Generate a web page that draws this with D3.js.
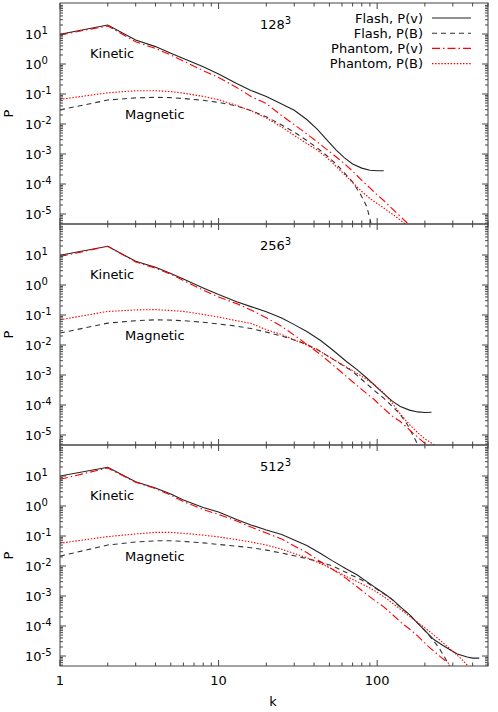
<!DOCTYPE html>
<html>
<head>
<meta charset="utf-8">
<script src="https://cdnjs.cloudflare.com/ajax/libs/d3/7.8.5/d3.min.js"></script>
<style>
  body { margin: 0; background: #fff; }
  text { font-family: "DejaVu Sans", sans-serif; font-size: 13px; fill: #000; }
</style>
</head>
<body>
<div id="chart"></div>
<script>
// all P values are stored as log10(P)

// --- 128^3 ---
const k128v = [1,2,3,4,5,6,8,10,13,16,20,25,30,36,42,48,55,62,70,80,90,100,110];
const flashV128 = [0.99,1.30,0.80,0.58,0.36,0.18,-0.09,-0.33,-0.65,-0.88,-1.08,-1.33,-1.54,-1.85,-2.18,-2.52,-2.86,-3.12,-3.33,-3.47,-3.54,-3.56,-3.56];
const k128b = [1,2,3,4,5,6,8,10,13,16,20,25,30,36,42,48,55,62,70,78,82,86,90,94];
const flashB128 = [-1.53,-1.20,-1.13,-1.11,-1.12,-1.15,-1.21,-1.28,-1.40,-1.55,-1.76,-2.03,-2.27,-2.55,-2.80,-3.05,-3.33,-3.62,-3.93,-4.32,-4.53,-4.76,-5.15,-5.6];
const k128pv = [1,2,3,4,5,6,8,10,13,16,20,25,30,36,42,50,60,70,80,90,100,110,130,155];
const phantomV128 = [0.97,1.27,0.74,0.52,0.30,0.10,-0.22,-0.45,-0.78,-1.08,-1.32,-1.72,-2.02,-2.33,-2.60,-2.92,-3.25,-3.57,-3.88,-4.13,-4.36,-4.55,-4.92,-5.3];
const k128pb = [1,2,3,4,5,6,8,10,13,16,20,25,30,36,42,50,60,70,80,90,100,110,130,150];
const phantomB128 = [-1.18,-0.96,-0.89,-0.89,-0.92,-0.97,-1.08,-1.19,-1.38,-1.56,-1.80,-2.10,-2.38,-2.65,-2.87,-3.2,-3.6,-3.95,-4.25,-4.48,-4.65,-4.80,-5.07,-5.33];

// --- 256^3 ---
const k256v = [1,2,3,4,5,6,8,10,13,16,20,25,30,36,44,52,64,75,86,100,110,125,140,160,180,200,220];
const flashV256 = [0.99,1.29,0.79,0.59,0.38,0.20,-0.10,-0.32,-0.56,-0.72,-0.89,-1.10,-1.32,-1.55,-1.85,-2.15,-2.55,-2.83,-3.10,-3.42,-3.62,-3.88,-4.05,-4.17,-4.23,-4.25,-4.24];
const k256b = [1,2,3,4,5,6,8,10,13,16,20,25,30,36,42,50,60,70,82,95,110,125,140,155,165,175,185];
const flashB256 = [-1.60,-1.27,-1.19,-1.16,-1.17,-1.19,-1.24,-1.30,-1.37,-1.45,-1.57,-1.70,-1.83,-1.98,-2.15,-2.40,-2.66,-2.88,-3.20,-3.50,-3.77,-4.05,-4.32,-4.65,-4.93,-5.18,-5.45];
const k256pv = [1,2,3,4,5,6,8,10,13,16,20,25,30,36,44,52,64,75,86,95,110,125,140,160,180,200,215];
const phantomV256 = [0.95,1.29,0.77,0.56,0.36,0.15,-0.17,-0.40,-0.62,-0.83,-1.09,-1.38,-1.67,-1.98,-2.32,-2.64,-3.05,-3.36,-3.62,-3.80,-4.12,-4.38,-4.55,-4.83,-5.07,-5.28,-5.40];
const k256pb = [1,2,3,4,5,6,8,10,13,16,20,25,30,36,42,50,60,70,82,95,110,125,140,160,180,200,233];
const phantomB256 = [-1.16,-0.88,-0.83,-0.82,-0.85,-0.88,-0.98,-1.07,-1.19,-1.28,-1.49,-1.65,-1.83,-2.0,-2.16,-2.40,-2.65,-2.85,-3.08,-3.30,-3.60,-3.95,-4.30,-4.65,-4.92,-5.13,-5.35];

// --- 512^3 ---
const k512v = [1,2,3,4,5,6,8,10,13,16,20,25,30,36,44,52,64,75,86,95,110,125,140,160,180,200,228,260,290,320,370,400,440];
const flashV512 = [1.0,1.29,0.81,0.60,0.40,0.20,-0.05,-0.20,-0.45,-0.63,-0.80,-0.95,-1.13,-1.32,-1.58,-1.82,-2.10,-2.30,-2.52,-2.68,-2.91,-3.12,-3.36,-3.62,-3.90,-4.15,-4.45,-4.65,-4.80,-4.93,-5.03,-5.07,-5.07];
const k512b = [1,2,3,4,5,6,8,10,13,16,20,25,30,36,44,52,64,75,86,95,110,125,140,160,180,200,225,245,265,280,290];
const flashB512 = [-1.67,-1.30,-1.20,-1.16,-1.16,-1.18,-1.23,-1.28,-1.34,-1.39,-1.47,-1.57,-1.66,-1.75,-1.87,-1.99,-2.22,-2.40,-2.55,-2.70,-2.92,-3.13,-3.37,-3.63,-3.9,-4.15,-4.47,-4.72,-5.02,-5.25,-5.40];
const k512pv = [1,2,3,4,5,6,8,10,13,16,20,25,30,36,44,52,64,75,86,95,110,125,140,160,180,210,250,291];
const phantomV512 = [0.89,1.27,0.79,0.58,0.36,0.15,-0.12,-0.28,-0.50,-0.70,-0.90,-1.10,-1.33,-1.55,-1.86,-2.10,-2.42,-2.70,-2.95,-3.12,-3.36,-3.62,-3.86,-4.10,-4.33,-4.68,-5.02,-5.30];
const k512pb = [1,2,3,4,5,6,8,10,13,16,20,25,30,36,44,52,64,75,86,95,110,125,140,160,180,210,240,270,300,340,370];
const phantomB512 = [-1.24,-1.02,-0.93,-0.88,-0.88,-0.91,-0.97,-1.03,-1.12,-1.20,-1.30,-1.44,-1.58,-1.72,-1.92,-2.10,-2.35,-2.52,-2.68,-2.80,-3.02,-3.24,-3.44,-3.68,-3.88,-4.15,-4.40,-4.63,-4.85,-5.10,-5.30];

const legendLabels = ["Flash, P(v)", "Flash, P(B)", "Phantom, P(v)", "Phantom, P(B)"];
const resolutions = ["128", "256", "512"];
const xTickLabels = [1, 10, 100];
const yExponents = [-5, -4, -3, -2, -1, 0, 1];

const styles = [
  {color: "#222", dash: null},
  {color: "#333", dash: "5,4"},
  {color: "#f00", dash: "8,3,1.5,3"},
  {color: "#f00", dash: "1.5,1.6"}
];

const panels = [
  {top: 3,   series: [[k128v, flashV128], [k128b, flashB128], [k128pv, phantomV128], [k128pb, phantomB128]]},
  {top: 224, series: [[k256v, flashV256], [k256b, flashB256], [k256pv, phantomV256], [k256pb, phantomB256]]},
  {top: 445, series: [[k512v, flashV512], [k512b, flashB512], [k512pv, phantomV512], [k512pb, phantomB512]]}
];

var width = 498, height = 712;
var left = 60, right = 488, ph = 221;

var svg = d3.select("#chart").append("svg")
  .attr("width", width).attr("height", height);

var x = d3.scaleLog().domain([1, 500]).range([left, right]);

var xMinor = [];
[1, 10, 100].forEach(function(d) {
  for (var i = 2; i <= 9; i++) if (d * i <= 500) xMinor.push(d * i);
});
var yMinor = [];
for (var e = -6; e <= 1; e++) {
  for (var i = 2; i <= 9; i++) yMinor.push(i * Math.pow(10, e));
}

panels.forEach(function(p, pi) {
  var y = d3.scaleLog().domain([4.65e-6, 108]).range([p.top + ph, p.top]);
  var g = svg.append("g");

  g.append("clipPath").attr("id", "clip" + pi)
    .append("rect").attr("x", left).attr("y", p.top).attr("width", right - left).attr("height", ph);

  // curves
  var line = d3.line()
    .x(function(d) { return x(d[0]); })
    .y(function(d) { return y(Math.pow(10, d[1])); });

  p.series.forEach(function(s, si) {
    var pts = s[0].map(function(k, i) { return [k, s[1][i]]; });
    g.append("path")
      .attr("clip-path", "url(#clip" + pi + ")")
      .attr("d", line(pts))
      .attr("fill", "none")
      .attr("stroke", styles[si].color)
      .attr("stroke-width", 1.1)
      .attr("stroke-dasharray", styles[si].dash);
  });

  // ticks, both sides of each frame
  var tk = g.append("g").attr("stroke", "#444").attr("stroke-width", 1);
  xTickLabels.forEach(function(v) {
    tk.append("line").attr("x1", x(v)).attr("x2", x(v)).attr("y1", p.top + ph).attr("y2", p.top + ph - 6);
    tk.append("line").attr("x1", x(v)).attr("x2", x(v)).attr("y1", p.top).attr("y2", p.top + 6);
  });
  xMinor.forEach(function(v) {
    tk.append("line").attr("x1", x(v)).attr("x2", x(v)).attr("y1", p.top + ph).attr("y2", p.top + ph - 3.5);
    tk.append("line").attr("x1", x(v)).attr("x2", x(v)).attr("y1", p.top).attr("y2", p.top + 3.5);
  });
  yExponents.forEach(function(e) {
    var yy = y(Math.pow(10, e));
    tk.append("line").attr("x1", left).attr("x2", left + 6).attr("y1", yy).attr("y2", yy);
    tk.append("line").attr("x1", right).attr("x2", right - 6).attr("y1", yy).attr("y2", yy);
  });
  yMinor.forEach(function(v) {
    var yy = y(v);
    if (yy < p.top || yy > p.top + ph) return;
    tk.append("line").attr("x1", left).attr("x2", left + 3).attr("y1", yy).attr("y2", yy);
    tk.append("line").attr("x1", right).attr("x2", right - 3).attr("y1", yy).attr("y2", yy);
  });

  g.append("rect").attr("x", left).attr("y", p.top).attr("width", right - left).attr("height", ph)
    .attr("fill", "none").attr("stroke", "#444").attr("stroke-width", 1);

  // y tick labels
  yExponents.forEach(function(e) {
    var t = g.append("text").attr("x", 25).attr("y", y(Math.pow(10, e)) + 5);
    t.append("tspan").text("10");
    t.append("tspan").attr("dy", -5).style("font-size", "10px").text(e);
  });

  g.append("text")
    .attr("transform", "translate(13," + (p.top + ph / 2) + ") rotate(-90)")
    .attr("text-anchor", "middle").text("P");

  // annotations
  var r = g.append("text").attr("x", 260).attr("y", p.top + 26);
  r.append("tspan").text(resolutions[pi]);
  r.append("tspan").attr("dy", -5).style("font-size", "10px").text("3");
  g.append("text").attr("x", 90).attr("y", p.top + 55).text("Kinetic");
  g.append("text").attr("x", 125).attr("y", p.top + 116).text("Magnetic");
});

// legend (top panel)
var lg = svg.append("g");
legendLabels.forEach(function(name, i) {
  var yy = 18 + i * 15.2;
  lg.append("text").attr("x", 423).attr("y", yy + 4.5).attr("text-anchor", "end").text(name);
  lg.append("line").attr("x1", 432).attr("x2", 471).attr("y1", yy).attr("y2", yy)
    .attr("stroke", styles[i].color).attr("stroke-width", 1.1)
    .attr("stroke-dasharray", styles[i].dash);
});

// x labels under bottom panel
var bottom = panels[2].top + ph;
xTickLabels.forEach(function(v) {
  svg.append("text").attr("x", x(v)).attr("y", bottom + 19).attr("text-anchor", "middle").text(v);
});
svg.append("text").attr("x", 273).attr("y", 706).attr("text-anchor", "middle").text("k");
</script>
</body>
</html>
